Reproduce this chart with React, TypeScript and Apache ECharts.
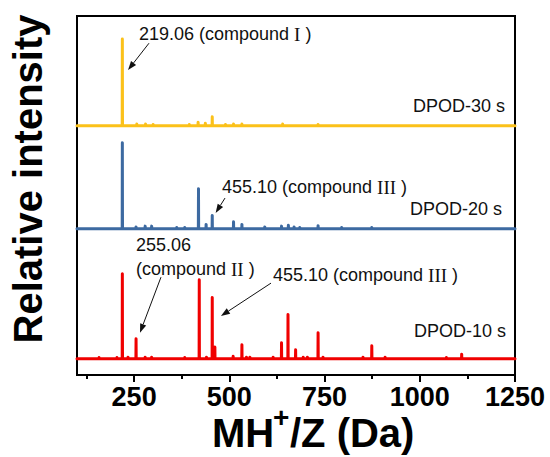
import { useEffect, useRef } from "react";
import * as echarts from "echarts";

// m/z axis range and tick positions
const mzMin = 100;
const mzMax = 1250;
const majorTicks = [250, 500, 750, 1000, 1250];
const minorTicks = [125, 375, 625, 875, 1125];

// Peak lists: [m/z, relative intensity]
const peaks10s: [number, number][] = [
  [158, 1.5], [205, 1.5], [219.06, 100], [234, 2], [255.06, 23.5], [279, 2], [296, 2],
  [383, 1.5], [421, 93], [440, 2], [455.1, 72], [462, 14], [510, 3], [533, 16.5],
  [545, 2], [554, 2], [615, 2], [637, 19], [654, 52], [674, 10.6], [694, 2], [705, 2],
  [733, 30.6], [746, 2], [851, 2], [874, 15.3], [909, 2], [1070, 1.5], [1110, 5.5],
];
const peaks20s: [number, number][] = [
  [219.06, 101], [255, 2], [279, 3], [296, 3], [362, 1.5], [383, 1.5], [419, 47],
  [439, 5], [455.1, 15.6], [511, 8], [533, 5], [593, 2], [637, 3], [655, 4], [670, 2],
  [685, 1.5], [733, 3.5], [795, 1.5], [874, 1.5],
];
const peaks30s: [number, number][] = [
  [219.06, 102], [257, 2], [280, 2], [300, 1.5], [395, 1.5], [418, 4], [437, 3],
  [455.1, 10.6], [490, 1.5], [511, 2], [533, 2], [640, 2], [733, 1.5],
];

const traceNames = ["DPOD-10 s", "DPOD-20 s", "DPOD-30 s"];
const tracePeaks = [peaks10s, peaks20s, peaks30s];
const traceOffsets = [19, 172, 293];
const traceColors = ["#f00000", "#3d6aa1", "#fbc11a"];
const yMax = 422;

// Annotation arrows in data coordinates (tail -> head)
const arrows = [
  { from: [289, 390], to: [234, 358.5] },
  { from: [488.6, 208], to: [464, 190.4] },
  { from: [320.5, 115], to: [265.4, 49.7] },
  { from: [609.4, 108], to: [478, 69.4] },
];

const SANS = "'Liberation Sans', Arial, Helvetica, sans-serif";
const SERIF = "'Liberation Serif', 'Times New Roman', serif";

// Build a stick spectrum on a flat baseline
function stickData(peaks: [number, number][], base: number) {
  const pts: number[][] = [[mzMin, base]];
  [...peaks]
    .sort((a, b) => a[0] - b[0])
    .forEach(([mz, h]) => {
      pts.push([mz - 0.4, base], [mz, base + h], [mz + 0.4, base]);
    });
  pts.push([mzMax, base]);
  return pts;
}

const annoRich = {
  a: { fontFamily: SANS, fontSize: 18, fill: "#111", color: "#111" },
  r: { fontFamily: SERIF, fontSize: 19, fill: "#111", color: "#111" },
};

function annoText(x: number, y: number, text: string, align = "left") {
  return {
    type: "text",
    x,
    y,
    style: {
      text,
      rich: annoRich,
      fill: "#111",
      fontFamily: SANS,
      fontSize: 18,
      align,
      verticalAlign: "middle",
    },
    z: 100,
  };
}

function titleText(x: number, y: number, text: string, size: number) {
  return {
    type: "text",
    x,
    y,
    style: {
      text,
      fill: "#000",
      fontFamily: SANS,
      fontWeight: "bold",
      fontSize: size,
      align: "left",
      verticalAlign: "middle",
    },
  };
}

export default function App() {
  const ref = useRef<HTMLDivElement>(null);

  useEffect(() => {
    if (!ref.current) return;
    const chart = echarts.init(ref.current, undefined, { renderer: "svg" });

    const series = tracePeaks.map((peaks, i) => ({
      name: traceNames[i],
      type: "line",
      data: stickData(peaks, traceOffsets[i]),
      showSymbol: false,
      symbol: "none",
      xAxisIndex: 0,
      lineStyle: { color: traceColors[i], width: 3, join: "round", cap: "round" },
      z: 3 + i,
    }));

    const texts: any[] = [
      {
        type: "text",
        x: 28,
        y: 179,
        rotation: Math.PI / 2,
        style: {
          text: "Relative intensity",
          fill: "#000",
          fontFamily: SANS,
          fontWeight: "bold",
          fontSize: 40,
          align: "center",
          verticalAlign: "middle",
        },
      },
      titleText(212, 433, "MH", 40),
      titleText(273, 417, "+", 28),
      titleText(290, 433, "/Z (Da)", 40),
      annoText(139, 34, "{a|219.06 (compound }{r|I}{a| )}"),
      annoText(222, 187, "{a|455.10 (compound }{r|III}{a| )}"),
      annoText(136, 245, "{a|255.06}"),
      annoText(136, 269, "{a|(compound }{r|II}{a| )}"),
      annoText(273, 275, "{a|455.10 (compound }{r|III}{a| )}"),
      annoText(505, 106, "{a|" + traceNames[2] + "}", "right"),
      annoText(502, 209, "{a|" + traceNames[1] + "}", "right"),
      annoText(506, 331, "{a|" + traceNames[0] + "}", "right"),
    ];

    chart.setOption({
      animation: false,
      grid: {
        left: 77,
        right: 35,
        top: 16,
        bottom: 82,
        show: true,
        borderColor: "#000",
        borderWidth: 2,
        backgroundColor: "transparent",
      },
      xAxis: [
        {
          type: "value",
          min: mzMin,
          max: mzMax,
          splitLine: { show: false },
          axisLine: { show: true, onZero: false, lineStyle: { color: "#000", width: 2 } },
          axisTick: {
            show: true,
            customValues: majorTicks,
            length: 7,
            lineStyle: { color: "#000", width: 2 },
          },
          axisLabel: {
            customValues: majorTicks,
            formatter: (v: number) => String(v),
            color: "#000",
            fontFamily: SANS,
            fontWeight: "bold",
            fontSize: 27,
            margin: 8,
          },
        },
        {
          type: "value",
          min: mzMin,
          max: mzMax,
          position: "bottom",
          splitLine: { show: false },
          axisLine: { show: false },
          axisTick: {
            show: true,
            customValues: minorTicks,
            length: 4,
            lineStyle: { color: "#000", width: 2 },
          },
          axisLabel: { show: false },
        },
      ],
      yAxis: {
        type: "value",
        min: 0,
        max: yMax,
        show: false,
      },
      series,
      graphic: texts,
    });

    // Arrows: shaft plus filled head, placed through the chart's own scales
    const arrowEls: any[] = [];
    arrows.forEach((a) => {
      const p0 = chart.convertToPixel({ gridIndex: 0 }, a.from) as number[];
      const p1 = chart.convertToPixel({ gridIndex: 0 }, a.to) as number[];
      const dx = p1[0] - p0[0];
      const dy = p1[1] - p0[1];
      const len = Math.hypot(dx, dy) || 1;
      const ux = dx / len;
      const uy = dy / len;
      const headLen = 9;
      const headW = 3.2;
      const bx = p1[0] - ux * headLen;
      const by = p1[1] - uy * headLen;
      arrowEls.push({
        type: "line",
        shape: { x1: p0[0], y1: p0[1], x2: bx, y2: by },
        style: { stroke: "#111", lineWidth: 1 },
        z: 90,
      });
      arrowEls.push({
        type: "polygon",
        shape: {
          points: [
            [p1[0], p1[1]],
            [bx - uy * headW, by + ux * headW],
            [bx + uy * headW, by - ux * headW],
          ],
        },
        style: { fill: "#111" },
        z: 90,
      });
    });

    chart.setOption({ graphic: [...texts, ...arrowEls] });

    return () => chart.dispose();
  }, []);

  return (
    <div
      ref={ref}
      style={{ position: "fixed", left: 0, top: 0, width: 550, height: 457, background: "#fff" }}
    />
  );
}
